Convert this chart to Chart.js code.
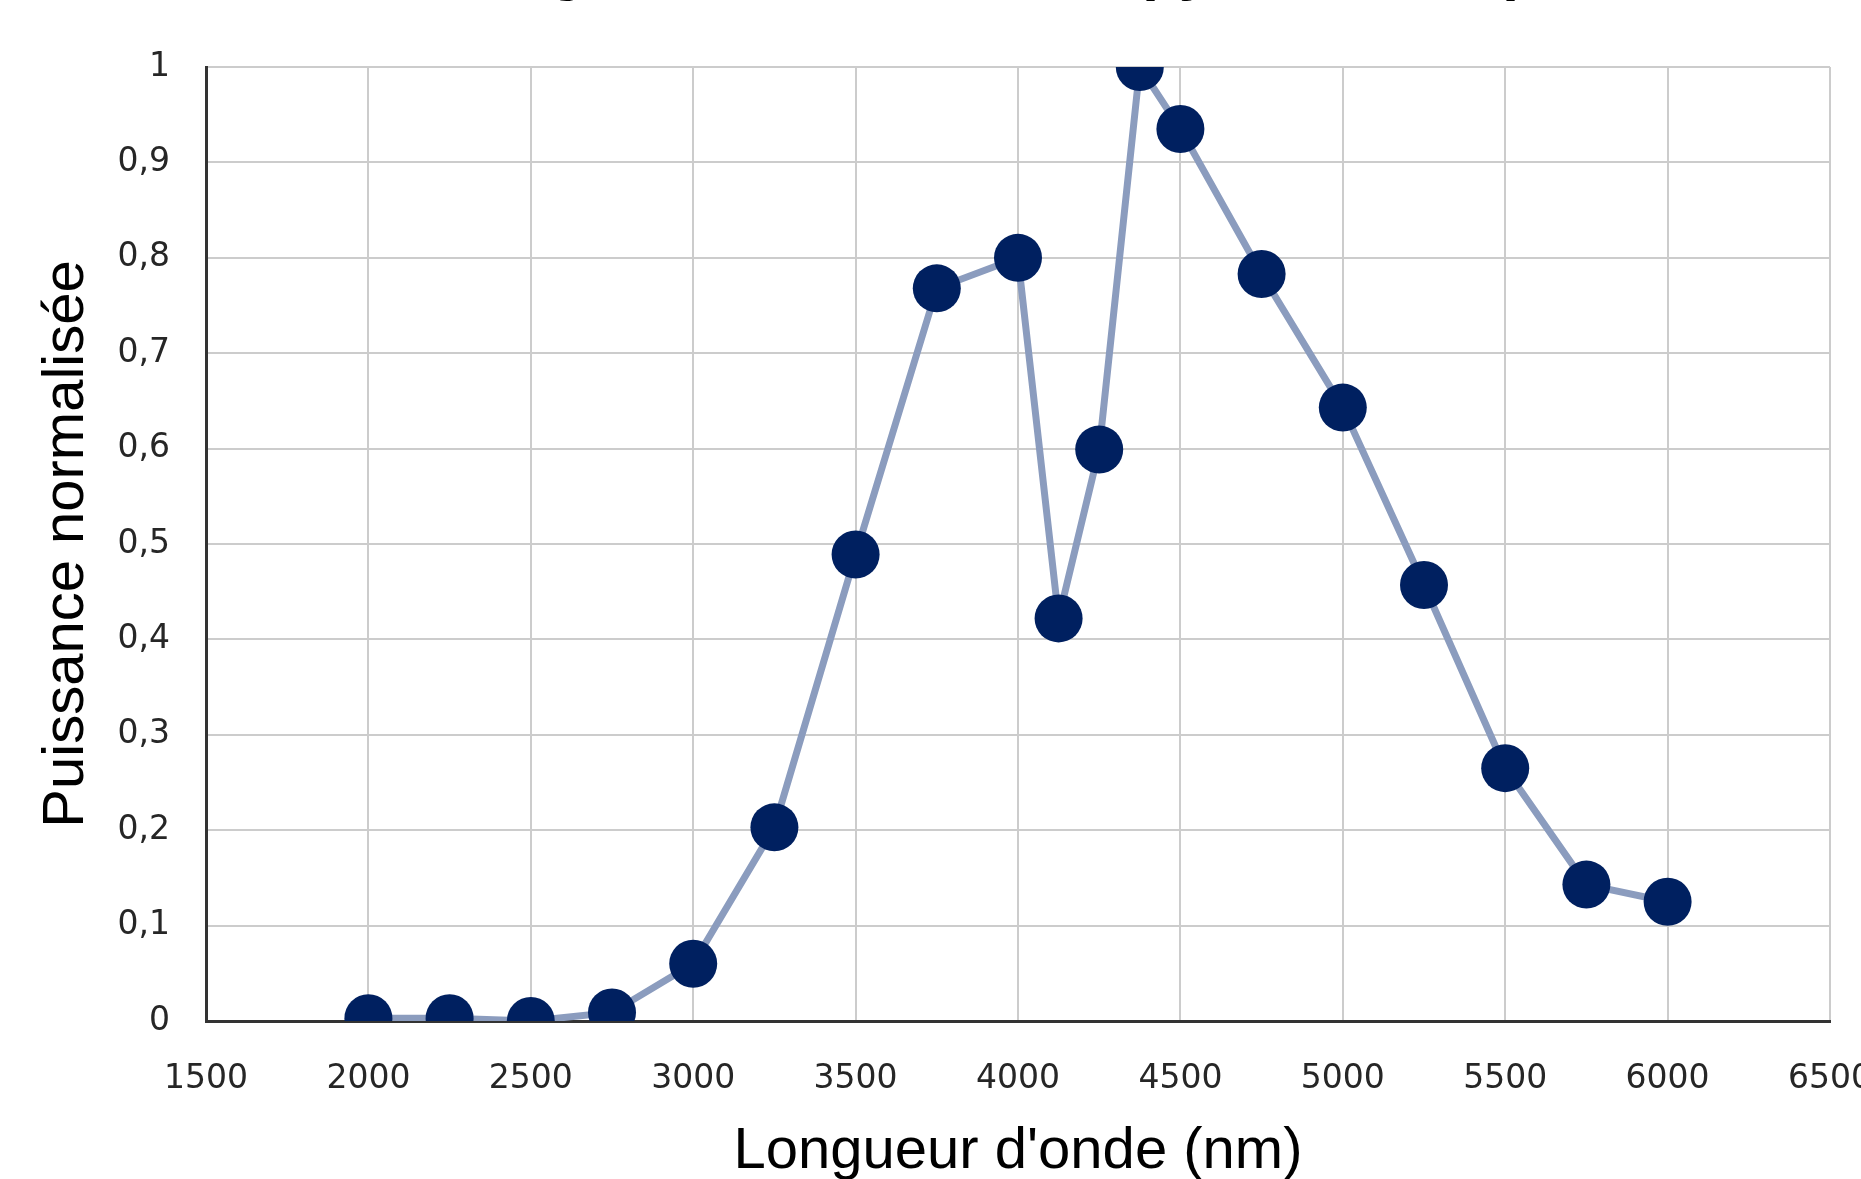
<!DOCTYPE html>
<html>
<head>
<meta charset="utf-8">
<script src="https://cdn.jsdelivr.net/npm/chart.js@4"></script>
<style>
  html, body { margin: 0; padding: 0; overflow: hidden; background: #fff; }
  #spectre { position: absolute; left: 0; top: -100px; }
</style>
</head>
<body>
<canvas id="spectre" width="1960" height="1319"></canvas>
<script>
// Longueurs d'onde (nm) et puissance normalisée
const longueurs = [2000, 2250, 2500, 2750, 3000, 3250, 3500, 3750, 4000, 4125, 4250, 4375, 4500, 4750, 5000, 5250, 5500, 5750, 6000];
const puissance = [0.003, 0.003, 0.0, 0.009, 0.06, 0.203, 0.489, 0.768, 0.8, 0.422, 0.599, 1.0, 0.935, 0.783, 0.643, 0.457, 0.265, 0.143, 0.125];

// le titre est coupé en haut de l'image, seules les jambes des lettres dépassent
const titre = "Étude de l'énergie lumineuse sur le pyromètre à plasma";
const titreX = "Longueur d'onde (nm)";
const titreY = "Puissance normalisée";

const points = longueurs.map(function (x, i) {
    return { x: x, y: puissance[i] };
});

const ctx = document.getElementById('spectre');
new Chart(ctx.getContext('2d'), {
    type: 'scatter',
    data: {
        datasets: [{
            label: titreY,
            data: points,
            showLine: true,
            borderColor: '#8b9cbe',
            borderWidth: 7,
            pointRadius: 24,
            pointHoverRadius: 24,
            pointBackgroundColor: '#002060',
            pointBorderColor: '#002060',
            pointBorderWidth: 0
        }]
    },
    options: {
        responsive: false,
        animation: false,
        devicePixelRatio: 1,
        // le canvas dépasse à droite : 6500 est coupé comme sur l'original
        layout: { padding: { left: 0, right: 130, top: 0, bottom: 0 } },
        plugins: {
            legend: { display: false },
            tooltip: { enabled: false },
            title: {
                display: true,
                text: titre,
                color: '#000',
                font: { family: 'Liberation Sans', size: 60, weight: 'bold' },
                padding: { top: 36, bottom: 59 }
            }
        },
        scales: {
            x: {
                type: 'linear',
                min: 1500,
                max: 6500,
                afterFit: function (scale) { scale.height = 198; },
                ticks: {
                    stepSize: 500,
                    padding: 39,
                    color: '#262626',
                    font: { family: 'DejaVu Sans', size: 33 },
                    callback: function (v) { return String(v); }
                },
                grid: { color: '#cccccc', lineWidth: 2, drawTicks: false },
                border: { color: '#333333', width: 3 },
                title: {
                    display: true,
                    text: titreX,
                    color: '#000',
                    font: { family: 'Liberation Sans', size: 58 },
                    padding: { top: 0, bottom: 32 }
                }
            },
            y: {
                min: 0,
                max: 1,
                afterFit: function (scale) { scale.width = 206; },
                ticks: {
                    stepSize: 0.1,
                    padding: 36,
                    color: '#262626',
                    font: { family: 'DejaVu Sans', size: 33 },
                    callback: function (v) {
                        return Number(v.toFixed(1)).toString().replace('.', ',');
                    }
                },
                grid: { color: '#cccccc', lineWidth: 2, drawTicks: false },
                border: { color: '#333333', width: 3 },
                title: {
                    display: true,
                    text: titreY,
                    color: '#000',
                    font: { family: 'Liberation Sans', size: 58 },
                    padding: { top: 32, bottom: 0 }
                }
            }
        }
    }
});
</script>
</body>
</html>
